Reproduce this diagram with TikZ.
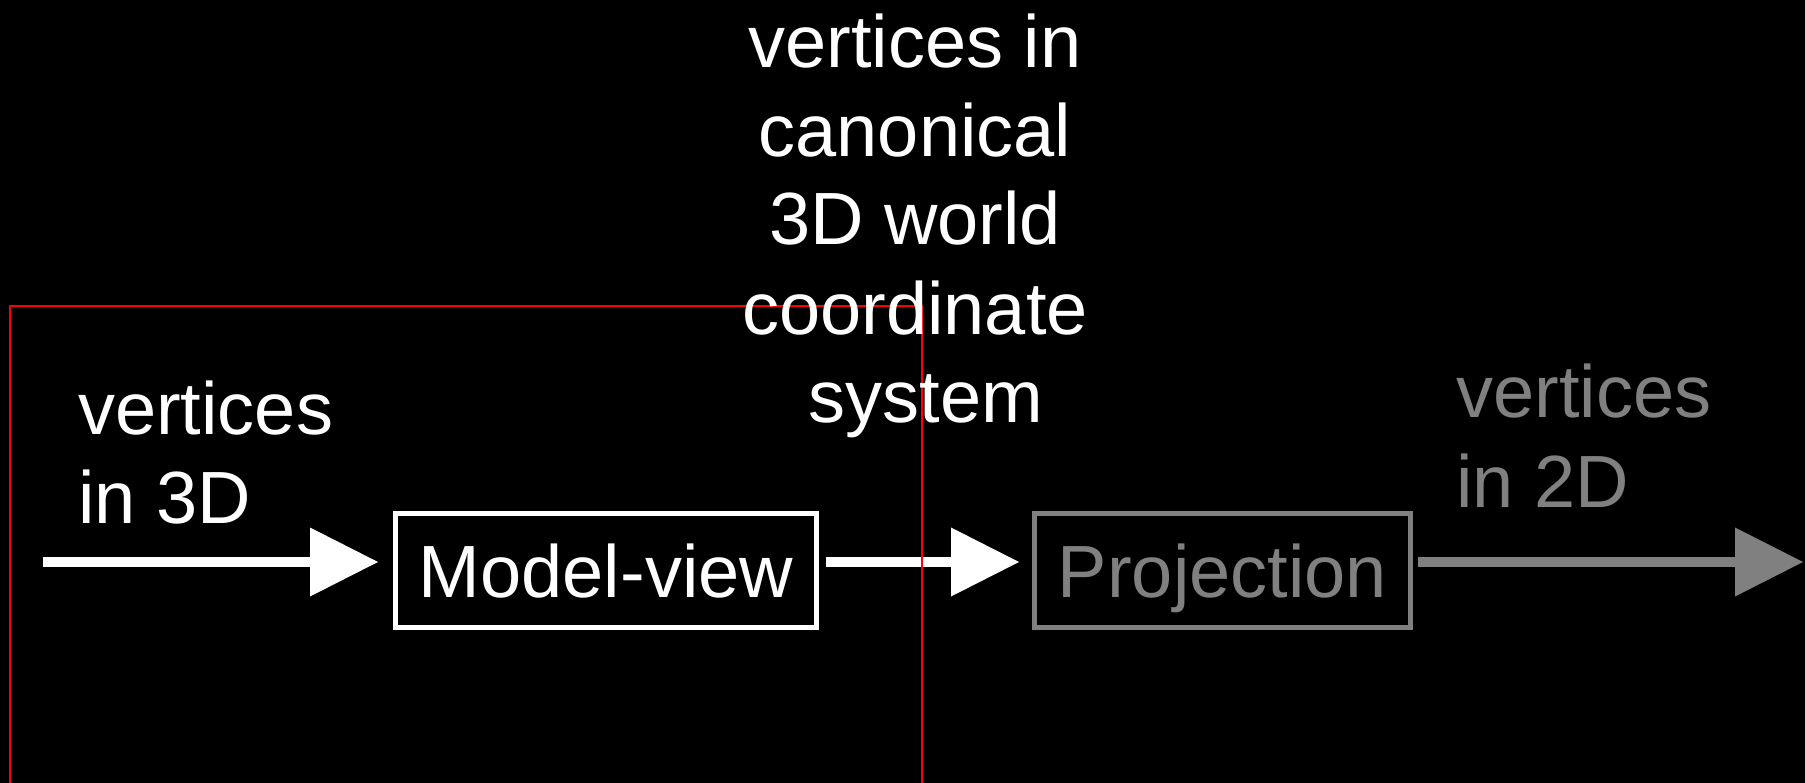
\documentclass[tikz,border=0pt]{standalone}
\usepackage{fontspec}
\setmainfont{Liberation Sans}
\usetikzlibrary{arrows.meta}
\definecolor{pgray}{RGB}{128,128,128}
\definecolor{pred}{RGB}{255,0,0}
\begin{document}
\begin{tikzpicture}[x=1pt,y=-1pt,
  lbl/.style={inner sep=0pt, font=\fontsize{74}{89}\selectfont},
  stagebox/.style={draw, line width=5pt, inner sep=0pt, minimum height=114pt,
    text height=53pt, text depth=0pt, font=\fontsize{74}{89}\selectfont},
  flow/.style={line width=10pt, -{Triangle[length=68pt,width=69pt,line width=0pt]}}]
\fill[black] (0,0) rectangle (1805,783);
\useasboundingbox (0,0) rectangle (1805,783);
\node[stagebox, white, minimum width=421pt] (mv) at (606,570.5) {Model-view};
\node[stagebox, pgray, minimum width=376pt] (pr) at (1222.5,570.5) {Projection};
\coordinate (in) at (43,562);
\coordinate (out) at (1803,562);
\draw[flow, white, shorten >=15pt] (in) -- (mv.west |- in);
\draw[flow, white, shorten <=7pt, shorten >=13pt] (mv.east |- in) -- (pr.west |- in);
\draw[flow, pgray, shorten <=5pt] (pr.east |- in) -- (out);
\draw[pred, line width=1.5pt] (10,783) -- (10,306) -- (922,306) -- (922,783);
\node[lbl, white, anchor=base west, align=left] (lt) at (78,523) {vertices\\in 3D};
\node[lbl, white, anchor=base, align=center] (mt) at (915,423) {vertices in\\canonical\\3D world\\coordinate\\\hspace*{22pt}system};
\node[lbl, pgray, anchor=base west, align=left] (rt) at (1456,507) {vertices\\in 2D};
\end{tikzpicture}
\end{document}
